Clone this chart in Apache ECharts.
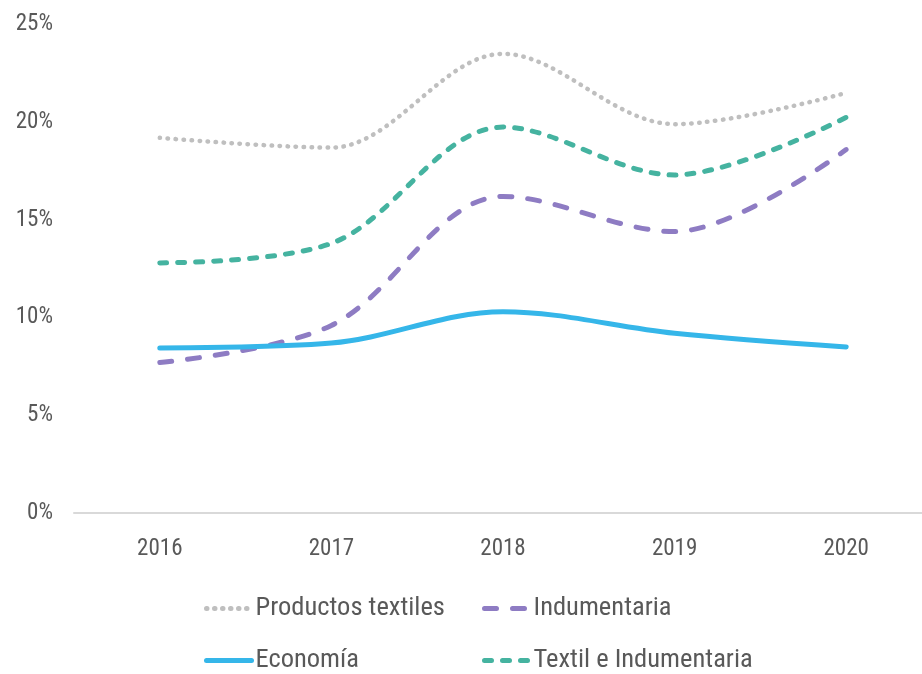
<!DOCTYPE html>
<html><head><meta charset="utf-8">
<script src="https://cdn.jsdelivr.net/npm/echarts@6/dist/echarts.min.js"></script>
<style>html,body{margin:0;padding:0;background:#fff}#c{width:922px;height:674px}</style>
</head><body><div id="c"></div>
<script>
const years = ['2016','2017','2018','2019','2020'];
const productosTextiles = [19.2, 18.7, 23.5, 19.9, 21.5];
const indumentaria = [7.7, 9.6, 16.2, 14.4, 18.6];
const economia = [8.45, 8.7, 10.3, 9.2, 8.5];
const textilIndumentaria = [12.8, 13.8, 19.75, 17.3, 20.25];
const yTicks = [0, 5, 10, 15, 20, 25];

const FONT = "'Roboto Condensed','Liberation Sans Narrow','DejaVu Sans Condensed',Roboto,sans-serif";
const TXT = '#595959';
const SMOOTH = 0.34;
const chart = echarts.init(document.getElementById('c'));

function legend(name, left, top) {
  return {
    data: [name], left: left, top: top, itemWidth: 45, itemHeight: 12, itemGap: 0,
    itemStyle: { opacity: 0 },
    lineStyle: { width: 5 },
    textStyle: { fontFamily: FONT, fontSize: 26.5, color: TXT, padding: [0,0,0,-1] },
    padding: 0
  };
}

chart.setOption({
  animation: false,
  textStyle: { fontFamily: FONT },
  grid: { left: 74, width: 858, top: 24.5, bottom: 161, outerBoundsMode: 'none', containLabel: false },
  legend: [
    legend('Productos textiles', 204, 595),
    legend('Indumentaria', 482, 595),
    legend('Economía', 204, 647),
    legend('Textil e Indumentaria', 482, 647)
  ],
  xAxis: {
    type: 'category', data: years, boundaryGap: true,
    axisLine: { lineStyle: { color: '#d9d9d9', width: 2 } },
    axisTick: { show: false },
    axisLabel: { fontFamily: FONT, fontSize: 23, color: TXT, margin: 25 }
  },
  yAxis: {
    type: 'value', min: yTicks[0], max: yTicks[yTicks.length - 1], interval: 5,
    axisLine: { show: false }, axisTick: { show: false },
    splitLine: { show: false },
    axisLabel: { fontFamily: FONT, fontSize: 23, color: TXT, margin: 21, formatter: v => v + '%' }
  },
  series: [
    { name: 'Productos textiles', type: 'line', data: productosTextiles, smooth: SMOOTH, showSymbol: false, symbol: 'none',
      lineStyle: { color: '#bfbfbf', width: 4.5, type: [0.5, 7.5], cap: 'round' }, itemStyle: { color: '#bfbfbf' } },
    { name: 'Indumentaria', type: 'line', data: indumentaria, smooth: SMOOTH, showSymbol: false, symbol: 'none',
      lineStyle: { color: '#8e7cc3', width: 5, type: [12, 16], cap: 'round' }, itemStyle: { color: '#8e7cc3' } },
    { name: 'Economía', type: 'line', data: economia, smooth: SMOOTH, showSymbol: false, symbol: 'none',
      lineStyle: { color: '#35b6e9', width: 5, cap: 'round' }, itemStyle: { color: '#35b6e9' } },
    { name: 'Textil e Indumentaria', type: 'line', data: textilIndumentaria, smooth: SMOOTH, showSymbol: false, symbol: 'none',
      lineStyle: { color: '#45b3a0', width: 5, type: [7, 11], cap: 'round' }, itemStyle: { color: '#45b3a0' } }
  ]
});
</script></body></html>
